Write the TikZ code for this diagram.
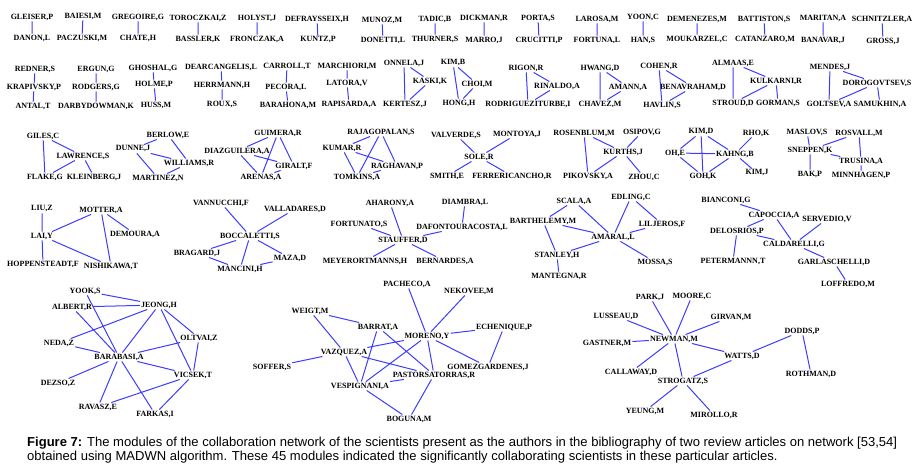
\documentclass[tikz,border=0pt]{standalone}
\usepackage{fontspec}
\newfontfamily\capfont{Liberation Sans}
\newfontfamily\labelfont{Liberation Serif}
\definecolor{linkblue}{RGB}{60,60,255}
\newlength\capw
\newcommand\captextA{\textbf{Figure 7:} The modules of the collaboration network of the scientists present as the authors in the bibliography of two review articles on network [53,54]}
\newcommand\captextB{obtained using MADWN algorithm. These 45 modules indicated the significantly collaborating scientists in these particular articles.}
\begin{document}
\settowidth\capw{\capfont\fontsize{13}{15}\selectfont\captextA}%
\pgfmathsetmacro\capx{870/\capw}%
\begin{tikzpicture}[x=1pt,y=-1pt,
  every node/.style={font=\labelfont\fontsize{8}{9}\selectfont\bfseries,inner sep=1pt},
  link/.style={color=linkblue,line width=1pt}]
\useasboundingbox (0,0) rectangle (916,473);

%first row: pairs of authors
\node (gleiser) at (32,17) {GLEISER,P};
\node (danon) at (32,38) {DANON,L};
\node (baiesi) at (83,16) {BAIESI,M};
\node (paczuski) at (82,38) {PACZUSKI,M};
\node (gregoire) at (138,17) {GREGOIRE,G};
\node (chate) at (138,38) {CHATE,H};
\node (toroczkai) at (198,18) {TOROCZKAI,Z};
\node (bassler) at (198,39) {BASSLER,K};
\node (holyst) at (257,18) {HOLYST,J};
\node (fronczak) at (257,39) {FRONCZAK,A};
\node (defraysseix) at (317,19) {DEFRAYSSEIX,H};
\node (kuntz) at (318,40) {KUNTZ,P};
\node (munoz) at (382,20) {MUNOZ,M};
\node (donetti) at (383,40) {DONETTI,L};
\node (tadic) at (435,19) {TADIC,B};
\node (thurner) at (435,39) {THURNER,S};
\node (dickman) at (484,18) {DICKMAN,R};
\node (marro) at (484,40) {MARRO,J};
\node (porta) at (538,18) {PORTA,S};
\node (crucitti) at (539,40) {CRUCITTI,P};
\node (larosa) at (597,19) {LAROSA,M};
\node (fortuna) at (597,40) {FORTUNA,L};
\node (yoon) at (643,17) {YOON,C};
\node (han) at (643,40) {HAN,S};
\node (demenezes) at (697,19) {DEMENEZES,M};
\node (moukarzel) at (697,39) {MOUKARZEL,C};
\node (battiston) at (764,19) {BATTISTON,S};
\node (catanzaro) at (765,39) {CATANZARO,M};
\node (maritan) at (823,18) {MARITAN,A};
\node (banavar) at (823,40) {BANAVAR,J};
\node (schnitzler) at (882,19) {SCHNITZLER,A};
\node (gross) at (883,41) {GROSS,J};
\draw[link] (gleiser) -- (danon) (baiesi) -- (paczuski) (gregoire) -- (chate)
  (toroczkai) -- (bassler) (holyst) -- (fronczak) (defraysseix) -- (kuntz)
  (munoz) -- (donetti) (tadic) -- (thurner) (dickman) -- (marro)
  (porta) -- (crucitti) (larosa) -- (fortuna) (yoon) -- (han)
  (demenezes) -- (moukarzel) (battiston) -- (catanzaro) (maritan) -- (banavar)
  (schnitzler) -- (gross);

%second row: chains and triangles
\node (redner) at (35,69) {REDNER,S};
\node (krapivsky) at (34,87) {KRAPIVSKY,P};
\node (antal) at (33,106) {ANTAL,T};
\node (ergun) at (96,69) {ERGUN,G};
\node (rodgers) at (96,87) {RODGERS,G};
\node (darbydowman) at (96,106) {DARBYDOWMAN,K};
\node (ghoshal) at (153,68) {GHOSHAL,G};
\node (holme) at (154,84) {HOLME,P};
\node (huss) at (156,105) {HUSS,M};
\node (dearcangelis) at (221,67) {DEARCANGELIS,L};
\node (herrmann) at (222,85) {HERRMANN,H};
\node (roux) at (222,104) {ROUX,S};
\node (carroll) at (287,66) {CARROLL,T};
\node (pecora) at (286,87) {PECORA,L};
\node (barahona) at (288,105) {BARAHONA,M};
\node (marchiori) at (347,66) {MARCHIORI,M};
\node (latora) at (347,83) {LATORA,V};
\node (rapisarda) at (349,104) {RAPISARDA,A};
\node (onnela) at (404,63) {ONNELA,J};
\node (kaski) at (430,81) {KASKI,K};
\node (kertesz) at (405,104) {KERTESZ,J};
\node (kimb) at (453,63) {KIM,B};
\node (choi) at (477,84) {CHOI,M};
\node (hong) at (459,103) {HONG,H};
\node (rigon) at (526,68) {RIGON,R};
\node (rinaldo) at (557,86) {RINALDO,A};
\node (rodrigueziturbe) at (528,104) {RODRIGUEZITURBE,I};
\node (hwang) at (600,68) {HWANG,D};
\node (amann) at (628,87) {AMANN,A};
\node (chavez) at (600,104) {CHAVEZ,M};
\node (cohen) at (659,66) {COHEN,R};
\node (benavraham) at (693,87) {BENAVRAHAM,D};
\node (havlin) at (662,105) {HAVLIN,S};
\node (almaas) at (733,63) {ALMAAS,E};
\node (kulkarni) at (776,81) {KULKARNI,R};
\node (stroud) at (733,103) {STROUD,D};
\node (gorman) at (778,103) {GORMAN,S};
\node (mendes) at (830,67) {MENDES,J};
\node (dorogovtsev) at (877,83) {DOROGOVTSEV,S};
\node (goltsev) at (829,104) {GOLTSEV,A};
\node (samukhin) at (880,104) {SAMUKHIN,A};
\draw[link] (redner) -- (krapivsky) -- (antal) (ergun) -- (rodgers) -- (darbydowman)
  (ghoshal) -- (holme) -- (huss) (dearcangelis) -- (herrmann) -- (roux)
  (carroll) -- (pecora) -- (barahona) (marchiori) -- (latora) -- (rapisarda);
\draw[link] (onnela) -- (kaski) -- (kertesz) -- (onnela)
  (kimb) -- (choi) -- (hong) -- (kimb)
  (rigon) -- (rinaldo) -- (rodrigueziturbe) -- (rigon)
  (hwang) -- (amann) -- (chavez) -- (hwang)
  (cohen) -- (benavraham) -- (havlin) -- (cohen)
  (almaas) -- (kulkarni) -- (stroud) -- (almaas) (kulkarni) -- (gorman)
  (mendes) -- (dorogovtsev) -- (goltsev) -- (mendes) (dorogovtsev) -- (samukhin);

%third row
\node (giles) at (43,136) {GILES,C};
\node (lawrence) at (83,156) {LAWRENCE,S};
\node (flake) at (45,177) {FLAKE,G};
\node (kleinberg) at (94,177) {KLEINBERG,J};
\node (berlow) at (168,135) {BERLOW,E};
\node (dunne) at (133,149) {DUNNE,J};
\node (williams) at (189,163) {WILLIAMS,R};
\node (martinez) at (158,178) {MARTINEZ,N};
\node (guimera) at (278,133) {GUIMERA,R};
\node (diazguilera) at (237,151) {DIAZGUILERA,A};
\node (giralt) at (294,166) {GIRALT,F};
\node (arenas) at (261,177) {ARENAS,A};
\node (rajagopalan) at (381,132) {RAJAGOPALAN,S};
\node (kumar) at (342,148) {KUMAR,R};
\node (raghavan) at (397,166) {RAGHAVAN,P};
\node (tomkins) at (357,177) {TOMKINS,A};
\node (valverde) at (456,135) {VALVERDE,S};
\node (montoya) at (517,134) {MONTOYA,J};
\node (sole) at (479,157) {SOLE,R};
\node (smith) at (447,176) {SMITH,E};
\node (ferrericancho) at (512,176) {FERRERICANCHO,R};
\node (rosenblum) at (584,133) {ROSENBLUM,M};
\node (osipov) at (642,132) {OSIPOV,G};
\node (kurths) at (623,152) {KURTHS,J};
\node (pikovsky) at (588,176) {PIKOVSKY,A};
\node (zhou) at (644,177) {ZHOU,C};
\node (kimd) at (701,132) {KIM,D};
\node (oh) at (675,153) {OH,E};
\node (kahng) at (735,154) {KAHNG,B};
\node (goh) at (703,176) {GOH,K};
\node (rho) at (756,133) {RHO,K};
\node (kimj) at (757,173) {KIM,J};
\node (maslov) at (807,132) {MASLOV,S};
\node (rosvall) at (859,133) {ROSVALL,M};
\node (sneppen) at (810,150) {SNEPPEN,K};
\node (trusina) at (861,161) {TRUSINA,A};
\node (bak) at (810,174) {BAK,P};
\node (minnhagen) at (861,175) {MINNHAGEN,P};
\draw[link] (giles) -- (flake) -- (lawrence) -- (giles) (lawrence) -- (kleinberg)
  (berlow) -- (dunne) -- (williams) -- (berlow) (dunne) -- (martinez) -- (williams)
  (guimera) -- (diazguilera) -- (arenas) -- (guimera) -- (giralt) -- (diazguilera)
  (arenas) -- (giralt)
  (rajagopalan) -- (kumar) -- (tomkins) -- (rajagopalan) -- (raghavan) -- (kumar)
  (tomkins) -- (raghavan)
  (sole) -- (valverde) (sole) -- (montoya) (sole) -- (smith) (sole) -- (ferrericancho)
  (rosenblum) -- (kurths) -- (pikovsky) -- (rosenblum) (kurths) -- (osipov)
  (kurths) -- (zhou)
  (kimd) -- (oh) -- (goh) -- (kahng) -- (kimd) -- (goh) (oh) -- (kahng)
  (kahng) -- (rho) (kahng) -- (kimj)
  (maslov) -- (sneppen) -- (rosvall) -- (trusina) -- (sneppen) -- (bak)
  (trusina) -- (minnhagen);

%fourth row
\node (liu) at (42,209) {LIU,Z};
\node (motter) at (101,210) {MOTTER,A};
\node (lai) at (42,236) {LAI,Y};
\node (demoura) at (135,234) {DEMOURA,A};
\node (hoppensteadt) at (43,264) {HOPPENSTEADT,F};
\node (nishikawa) at (111,266) {NISHIKAWA,T};
\node (vannucchi) at (221,203) {VANNUCCHI,F};
\node (valladares) at (295,209) {VALLADARES,D};
\node (boccaletti) at (250,236) {BOCCALETTI,S};
\node (bragard) at (197,253) {BRAGARD,J};
\node (maza) at (290,258) {MAZA,D};
\node (mancini) at (240,269) {MANCINI,H};
\node (aharony) at (390,203) {AHARONY,A};
\node (diambra) at (465,202) {DIAMBRA,L};
\node (fortunato) at (359,224) {FORTUNATO,S};
\node (dafontouracosta) at (462,227) {DAFONTOURACOSTA,L};
\node (stauffer) at (403,240) {STAUFFER,D};
\node (meyerortmanns) at (365,261) {MEYERORTMANNS,H};
\node (bernardes) at (445,261) {BERNARDES,A};
\node (scala) at (574,201) {SCALA,A};
\node (edling) at (631,197) {EDLING,C};
\node (barthelemy) at (543,221) {BARTHELEMY,M};
\node (liljeros) at (662,224) {LILJEROS,F};
\node (amaral) at (613,237) {AMARAL,L};
\node (stanley) at (557,255) {STANLEY,H};
\node (mantegna) at (559,276) {MANTEGNA,R};
\node (mossa) at (655,262) {MOSSA,S};
\node (bianconi) at (726,200) {BIANCONI,G};
\node (capoccia) at (774,215) {CAPOCCIA,A};
\node (servedio) at (827,219) {SERVEDIO,V};
\node (delosrios) at (737,231) {DELOSRIOS,P};
\node (caldarelli) at (794,244) {CALDARELLI,G};
\node (petermannn) at (733,261) {PETERMANNN,T};
\node (garlaschelli) at (834,262) {GARLASCHELLI,D};
\node (loffredo) at (848,284) {LOFFREDO,M};
\draw[link] (liu) -- (lai) -- (motter) -- (demoura) (motter) -- (nishikawa) -- (lai)
  (lai) -- (hoppensteadt)
  (boccaletti) -- (vannucchi) (boccaletti) -- (valladares) (boccaletti) -- (bragard)
  (boccaletti) -- (maza) (boccaletti) -- (mancini) (bragard) -- (mancini) -- (maza)
  (stauffer) -- (aharony) (stauffer) -- (fortunato) (stauffer) -- (dafontouracosta)
  (dafontouracosta) -- (diambra) (stauffer) -- (meyerortmanns) (stauffer) -- (bernardes)
  (scala) -- (barthelemy) -- (amaral) -- (scala) (barthelemy) -- (stanley) -- (amaral)
  (stanley) -- (mantegna) (edling) -- (amaral) -- (liljeros) -- (edling) (amaral) -- (mossa)
  (bianconi) -- (capoccia) -- (delosrios) -- (caldarelli) -- (capoccia)
  (servedio) -- (caldarelli) -- (garlaschelli) -- (loffredo) (delosrios) -- (petermannn);

%fifth row: the large modules
\node (yook) at (85,291) {YOOK,S};
\node (albert) at (72,307) {ALBERT,R};
\node (jeong) at (159,305) {JEONG,H};
\node (neda) at (59,343) {NEDA,Z};
\node (oltvai) at (199,338) {OLTVAI,Z};
\node (barabasi) at (119,357) {BARABASI,A};
\node (dezso) at (58,383) {DEZSO,Z};
\node (vicsek) at (193,375) {VICSEK,T};
\node (ravasz) at (98,407) {RAVASZ,E};
\node (farkas) at (155,414) {FARKAS,I};
\draw[link] (jeong) -- (yook) -- (barabasi) -- (albert) -- (jeong) -- (neda) -- (barabasi)
  (jeong) -- (barabasi) (jeong) -- (oltvai) -- (barabasi) (jeong) -- (vicsek) -- (oltvai)
  (barabasi) -- (vicsek) -- (ravasz) -- (barabasi) -- (farkas) -- (vicsek)
  (barabasi) -- (dezso);

\node (pacheco) at (407,284) {PACHECO,A};
\node (nekovee) at (469,291) {NEKOVEE,M};
\node (weigt) at (310,311) {WEIGT,M};
\node (barrat) at (378,327) {BARRAT,A};
\node (echenique) at (504,327) {ECHENIQUE,P};
\node (moreno) at (427,336) {MORENO,Y};
\node (vazquez) at (344,352) {VAZQUEZ,A};
\node (soffer) at (272,367) {SOFFER,S};
\node (gomezgardenes) at (488,367) {GOMEZGARDENES,J};
\node (pastorsatorras) at (434,375) {PASTORSATORRAS,R};
\node (vespignani) at (360,386) {VESPIGNANI,A};
\node (boguna) at (409,419) {BOGUNA,M};
\draw[link] (weigt) -- (barrat) (weigt) -- (vazquez) -- (soffer)
  (moreno) -- (pacheco) (moreno) -- (nekovee) (moreno) -- (echenique) -- (gomezgardenes)
  (moreno) -- (vazquez) (moreno) -- (gomezgardenes) (moreno) -- (pastorsatorras)
  (moreno) -- (vespignani) -- (barrat) -- (pastorsatorras)
  (vazquez) -- (vespignani) -- (pastorsatorras) -- (vazquez)
  (vespignani) -- (boguna) -- (pastorsatorras);

\node (park) at (650,297) {PARK,J};
\node (moore) at (692,296) {MOORE,C};
\node (lusseau) at (616,316) {LUSSEAU,D};
\node (girvan) at (731,317) {GIRVAN,M};
\node (gastner) at (607,343) {GASTNER,M};
\node (newman) at (674,339) {NEWMAN,M};
\node (dodds) at (802,331) {DODDS,P};
\node (watts) at (742,356) {WATTS,D};
\node (callaway) at (631,372) {CALLAWAY,D};
\node (strogatz) at (683,381) {STROGATZ,S};
\node (rothman) at (811,374) {ROTHMAN,D};
\node (yeung) at (645,411) {YEUNG,M};
\node (mirollo) at (714,415) {MIROLLO,R};
\draw[link] (newman) -- (park) (newman) -- (moore) (newman) -- (lusseau)
  (newman) -- (girvan) (newman) -- (gastner) (newman) -- (watts)
  (newman) -- (callaway) -- (strogatz) -- (newman)
  (strogatz) -- (watts) -- (dodds) -- (rothman)
  (strogatz) -- (yeung) (strogatz) -- (mirollo);

%caption
\node[anchor=base west,inner sep=0,font=\capfont\fontsize{13}{15}\selectfont] (caption1) at (27,446)
  {\scalebox{\capx}[1]{\captextA}};
\node[anchor=base west,inner sep=0,font=\capfont\fontsize{13}{15}\selectfont] (caption2) at (27,460)
  {\scalebox{\capx}[1]{\captextB}};
\end{tikzpicture}
\end{document}
